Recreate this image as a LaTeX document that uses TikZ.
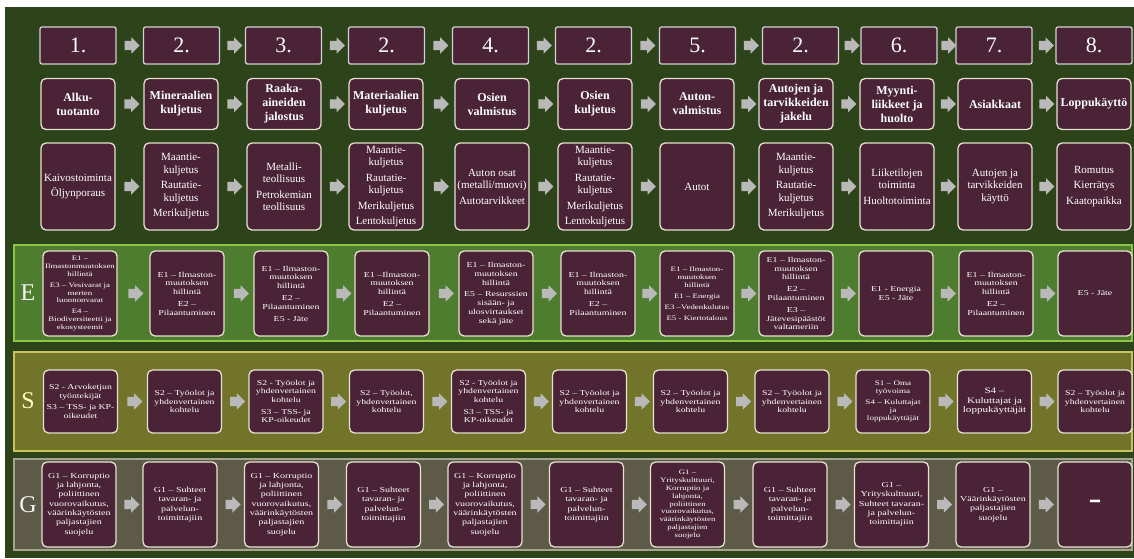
\documentclass[tikz,border=0pt]{standalone}
\usepackage{fontspec}
\setmainfont{Liberation Serif}
\newfontfamily\widefont[FakeStretch=1.3]{Liberation Serif}
\usetikzlibrary{shapes.arrows}

\definecolor{bggreen}{RGB}{45,67,26}
\definecolor{boxplum}{RGB}{74,35,55}
\definecolor{boxline}{RGB}{230,226,208}
\definecolor{arrowgray}{RGB}{185,185,185}
\definecolor{efill}{RGB}{79,125,47}
\definecolor{eline}{RGB}{141,198,66}
\definecolor{sfill}{RGB}{113,116,41}
\definecolor{sline}{RGB}{201,195,90}
\definecolor{gfill}{RGB}{93,91,71}
\definecolor{gline}{RGB}{168,162,144}

\newcommand\pgap{\\[3pt]}

\tikzset{
  card/.style={draw=boxline, line width=1.3pt, fill=boxplum, rounded corners=5pt,
    text=white, align=center, inner sep=1pt, minimum width=74pt},
  numcard/.style={card, draw=gray!35, rounded corners=2pt, minimum height=37pt,
    minimum width=76pt, font=\fontsize{22}{22}\selectfont},
  titlecard/.style={card, minimum height=51pt, font=\bfseries\fontsize{12}{14}\selectfont},
  actcard/.style={card, minimum height=87pt, font=\fontsize{11}{12.5}\selectfont},
  envcard/.style={card, minimum height=85pt, font=\widefont\fontsize{7.6}{8.8}\selectfont},
  soccard/.style={card, minimum height=63pt, font=\widefont\fontsize{7.5}{8.6}\selectfont},
  govcard/.style={card, minimum height=85pt, font=\widefont\fontsize{7.7}{9.3}\selectfont},
  smalltext/.style={font=\widefont\fontsize{6.8}{7.9}\selectfont},
  band/.style={line width=1.8pt},
  bandletter/.style={font=\fontsize{24}{24}\selectfont},
  flowarrow/.style={single arrow, fill=arrowgray, draw=none, inner xsep=1pt,
    inner ysep=4.5pt, minimum height=15pt, single arrow head extend=3.5pt,
    single arrow head indent=0pt}
}

\begin{document}
\begin{tikzpicture}[x=1pt,y=-1pt]
  \useasboundingbox (0,0) rectangle (1134,558);
  \fill[white] (0,0) rectangle (1134,558);
  \fill[bggreen] (5,7) rectangle (1134,558);

  % ESG bands
  \draw[band,draw=eline,fill=efill] (14,245) rectangle (1132,341);
  \draw[band,draw=sline,fill=sfill] (14,352) rectangle (1132,451);
  \draw[band,draw=gline,fill=gfill] (14,459) rectangle (1132,550);
  \node[bandletter,text=white!92!gray] (eletter) at (28,293) {E};
  \node[bandletter,text=yellow!25!white] (sletter) at (28,401) {S};
  \node[bandletter,text=white!92!gray] (gletter) at (28,505) {G};

  % Stage numbers
  \node[numcard] (num1) at (78,45.5) {1.};
  \node[numcard] (num2) at (181.5,45.5) {2.};
  \node[numcard] (num3) at (283.5,45.5) {3.};
  \node[numcard] (num4) at (386.5,45.5) {2.};
  \node[numcard] (num5) at (490.5,45.5) {4.};
  \node[numcard] (num6) at (593.5,45.5) {2.};
  \node[numcard] (num7) at (697.5,45.5) {5.};
  \node[numcard] (num8) at (800.5,45.5) {2.};
  \node[numcard] (num9) at (899,45.5) {6.};
  \node[numcard] (num10) at (994,45.5) {7.};
  \node[numcard] (num11) at (1094,45.5) {8.};

  % Stage titles
  \node[titlecard] (stage1) at (78,104) {Alku-\\tuotanto};
  \node[titlecard] (stage2) at (181,104) {Mineraalien\\kuljetus};
  \node[titlecard] (stage3) at (284,104) {Raaka-\\aineiden\\jalostus};
  \node[titlecard] (stage4) at (386,104) {Materiaalien\\kuljetus};
  \node[titlecard] (stage5) at (492,104) {Osien\\valmistus};
  \node[titlecard] (stage6) at (595,104) {Osien\\kuljetus};
  \node[titlecard] (stage7) at (697,104) {Auton-\\valmistus};
  \node[titlecard] (stage8) at (796,104) {Autojen ja\\tarvikkeiden\\jakelu};
  \node[titlecard] (stage9) at (897,104) {Myynti-\\liikkeet ja\\huolto};
  \node[titlecard] (stage10) at (995,104) {Asiakkaat};
  \node[titlecard] (stage11) at (1094,104) {Loppukäyttö};

  % Activities
  \node[actcard] (act1) at (78,186.5) {Kaivostoiminta\pgap Öljynporaus};
  \node[actcard] (act2) at (181,186.5) {Maantie-\\kuljetus\pgap Rautatie-\\kuljetus\pgap Merikuljetus};
  \node[actcard] (act3) at (284,186.5) {Metalli-\\teollisuus\pgap Petrokemian\\teollisuus};
  \node[actcard] (act4) at (386,186.5) {Maantie-\\kuljetus\pgap Rautatie-\\kuljetus\pgap Merikuljetus\pgap Lentokuljetus};
  \node[actcard] (act5) at (492,186.5) {Auton osat\\(metalli/muovi)\pgap Autotarvikkeet};
  \node[actcard] (act6) at (595,186.5) {Maantie-\\kuljetus\pgap Rautatie-\\kuljetus\pgap Merikuljetus\pgap Lentokuljetus};
  \node[actcard] (act7) at (697,186.5) {Autot};
  \node[actcard] (act8) at (796,186.5) {Maantie-\\kuljetus\pgap Rautatie-\\kuljetus\pgap Merikuljetus};
  \node[actcard] (act9) at (897,186.5) {Liiketilojen\\toiminta\pgap Huoltotoiminta};
  \node[actcard] (act10) at (995,186.5) {Autojen ja\\tarvikkeiden\\käyttö};
  \node[actcard] (act11) at (1094,186.5) {Romutus\pgap Kierrätys\pgap Kaatopaikka};

  % Environment
  \node[envcard,smalltext] (env1) at (80,293.5) {E1 –\\Ilmastonmuutoksen\\hillintä\pgap E3 – Vesivarat ja\\merten\\luonnonvarat\pgap E4 –\\Biodiversiteetti ja\\ekosysteemit};
  \node[envcard] (env2) at (187,293.5) {E1 – Ilmaston-\\muutoksen\\hillintä\pgap E2 –\\Pilaantuminen};
  \node[envcard] (env3) at (291,293.5) {E1 – Ilmaston-\\muutoksen\\hillintä\pgap E2 –\\Pilaantuminen\pgap E5 - Jäte};
  \node[envcard] (env4) at (392,293.5) {E1 –Ilmaston-\\muutoksen\\hillintä\pgap E2 –\\Pilaantuminen};
  \node[envcard] (env5) at (496,293.5) {E1 – Ilmaston-\\muutoksen\\hillintä\pgap E5 – Resurssien\\sisään- ja\\ulosvirtaukset\\sekä jäte};
  \node[envcard] (env6) at (598,293.5) {E1 – Ilmaston-\\muutoksen\\hillintä\pgap E2 –\\Pilaantuminen};
  \node[envcard,smalltext] (env7) at (697,293.5) {E1 – Ilmaston-\\muutoksen\\hillintä\pgap E1 – Energia\pgap E3 –Vedenkulutus\pgap E5 - Kiertotalous};
  \node[envcard] (env8) at (796,293.5) {E1 – Ilmaston-\\muutoksen\\hillintä\pgap E2 –\\Pilaantuminen\pgap E3 –\\Jätevesipäästöt\\valtameriin};
  \node[envcard] (env9) at (896,293.5) {E1 - Energia\\E5 - Jäte};
  \node[envcard] (env10) at (996,293.5) {E1 – Ilmaston-\\muutoksen\\hillintä\pgap E2 –\\Pilaantuminen};
  \node[envcard] (env11) at (1095,293.5) {E5 -  Jäte};

  % Social
  \node[soccard] (soc1) at (80.5,401.5) {S2 -  Arvoketjun\\työntekijät\pgap S3 – TSS- ja KP-\\oikeudet};
  \node[soccard] (soc2) at (184.5,401.5) {S2 – Työolot ja\\yhdenvertainen\\kohtelu};
  \node[soccard] (soc3) at (286,401.5) {S2 -  Työolot ja\\yhdenvertainen\\kohtelu\pgap S3 – TSS- ja\\KP-oikeudet};
  \node[soccard] (soc4) at (386.5,401.5) {S2 – Työolot,\\yhdenvertainen\\kohtelu};
  \node[soccard] (soc5) at (488.5,401.5) {S2 -  Työolot ja\\yhdenvertainen\\kohtelu\pgap S3 – TSS- ja\\KP-oikeudet};
  \node[soccard] (soc6) at (589.5,401.5) {S2 – Työolot ja\\yhdenvertainen\\kohtelu};
  \node[soccard] (soc7) at (690.5,401.5) {S2 – Työolot ja\\yhdenvertainen\\kohtelu};
  \node[soccard] (soc8) at (792,401.5) {S2 – Työolot ja\\yhdenvertainen\\kohtelu};
  \node[soccard,font=\widefont\fontsize{7}{7.8}\selectfont] (soc9) at (893,401.5) {S1 – Oma\\työvoima\pgap S4 – Kuluttajat\\ja\\loppukäyttäjät};
  \node[soccard,font=\widefont\fontsize{8.5}{9.5}\selectfont] (soc10) at (994.5,401.5) {S4 –\\Kuluttajat ja\\loppukäyttäjät};
  \node[soccard] (soc11) at (1095,401.5) {S2 – Työolot ja\\yhdenvertainen\\kohtelu};

  % Governance
  \node[govcard] (gov1) at (79,504.5) {G1 – Korruptio\\ja lahjonta,\\poliittinen\\vuorovaikutus,\\väärinkäytösten\\paljastajien\\suojelu};
  \node[govcard] (gov2) at (180,504.5) {G1 – Suhteet\\tavaran- ja\\palvelun-\\toimittajiin};
  \node[govcard] (gov3) at (281.5,504.5) {G1 – Korruptio\\ja lahjonta,\\poliittinen\\vuorovaikutus,\\väärinkäytösten\\paljastajien\\suojelu};
  \node[govcard] (gov4) at (383.5,504.5) {G1 – Suhteet\\tavaran- ja\\palvelun-\\toimittajiin};
  \node[govcard] (gov5) at (485,504.5) {G1 – Korruptio\\ja lahjonta,\\poliittinen\\vuorovaikutus,\\väärinkäytösten\\paljastajien\\suojelu};
  \node[govcard] (gov6) at (586.5,504.5) {G1 – Suhteet\\tavaran- ja\\palvelun-\\toimittajiin};
  \node[govcard,smalltext] (gov7) at (687.5,504.5) {G1 –\\Yrityskulttuuri,\\Korruptio ja\\lahjonta,\\poliittinen\\vuorovaikutus,\\väärinkäytösten\\paljastajien\\suojelu};
  \node[govcard] (gov8) at (790,504.5) {G1 – Suhteet\\tavaran- ja\\palvelun-\\toimittajiin};
  \node[govcard] (gov9) at (891.5,504.5) {G1 –\\Yrityskulttuuri,\\Suhteet tavaran-\\ja palvelun-\\toimittajiin};
  \node[govcard] (gov10) at (993,504.5) {G1 –\\Väärinkäytösten\\paljastajien\\suojelu};
  \node[govcard,font=\widefont\bfseries\fontsize{30}{30}\selectfont] (gov11) at (1095,504.5) {-};

  % Arrows between the cards
  \foreach \row in {num,stage,act,env,soc,gov}
    \foreach \i/\j in {1/2,2/3,3/4,4/5,5/6,6/7,7/8,8/9,9/10,10/11}
      \path (\row\i.east) -- (\row\j.west) node[midway,flowarrow] {};
\end{tikzpicture}
\end{document}
